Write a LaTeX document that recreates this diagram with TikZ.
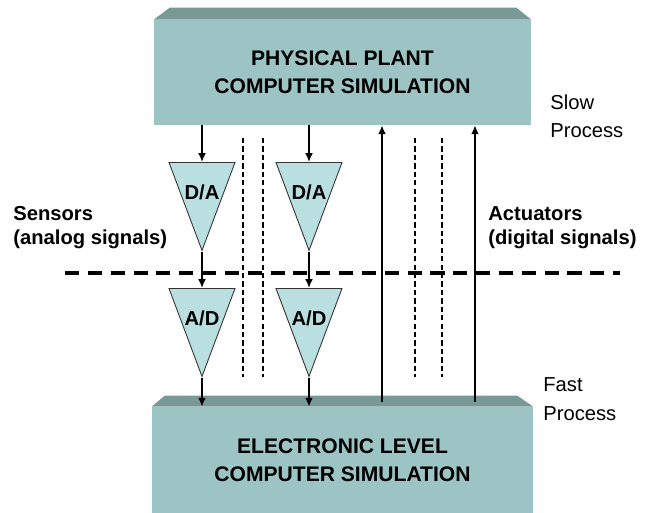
\documentclass[tikz,border=0pt]{standalone}
\usepackage{fontspec}
\setmainfont{Liberation Sans}
\usetikzlibrary{arrows.meta,shapes.geometric,calc}
\definecolor{slabfront}{RGB}{156,196,196}
\definecolor{slabtop}{RGB}{121,153,151}
\definecolor{convfill}{RGB}{186,223,225}

\begin{document}
\begin{tikzpicture}[
			x=0.02cm, y=-0.02cm,
			>=Latex,
			slab/.style={rectangle, fill=slabfront, inner sep=0pt, align=center,
				font=\fontsize{12}{16}\selectfont\bfseries},
			bevel/.style={fill=slabtop},
			conv/.style={isosceles triangle, isosceles triangle stretches,
				shape border rotate=270, draw=black!80, line width=0.5pt, fill=convfill,
				minimum width=1.32cm, minimum height=1.76cm, inner sep=0pt, anchor=north},
			convtext/.style={yshift=-4.3pt, font=\fontsize{11.5}{13}\selectfont\bfseries},
			sig/.style={-{Latex[length=5pt,width=4.4pt]}, line width=0.85pt},
			guide/.style={line width=0.6pt, dash pattern=on 3pt off 1.8pt},
			split/.style={line width=2.8pt, dash pattern=on 8pt off 5pt},
			side/.style={anchor=base west, align=left, inner sep=0pt,
				font=\fontsize{11.5}{13.7}\selectfont\bfseries},
			speed/.style={anchor=base west, align=left, inner sep=0pt,
				font=\fontsize{11.5}{16}\selectfont}
			]
			\useasboundingbox (0,0) rectangle (659,513);
			
			% the two simulation levels
			\node[slab, minimum width=7.54cm, minimum height=2.1cm] (plant) at (342.5,72.5)
			{PHYSICAL PLANT\\COMPUTER SIMULATION};
			\fill[bevel] (plant.north west) -- ++(16,-12) -- ([shift={(-15,-12)}]plant.north east)
			-- (plant.north east) -- cycle;
			
			\node[slab, minimum width=7.62cm, minimum height=2.12cm] (elec) at (342.5,460)
			{ELECTRONIC LEVEL\\COMPUTER SIMULATION};
			\fill[bevel] (elec.north west) -- ++(13,-11) -- ([shift={(-16,-11)}]elec.north east)
			-- (elec.north east) -- cycle;
			
			% converters, placed by the middle of their top edge
			\node[conv, label={[convtext]center:D/A}] (da1) at (202,162) {};
			\node[conv, label={[convtext]center:D/A}] (da2) at (309,162) {};
			\node[conv, label={[convtext]center:A/D}] (ad1) at (202,288) {};
			\node[conv, label={[convtext]center:A/D}] (ad2) at (309,288) {};
			
			% boundary between slow and fast parts
			\coordinate (splitL) at (65,273);
			\coordinate (splitR) at (620,273);
			\draw[split] (splitL) -- (splitR);
			
			\foreach \gx in {243,263,415,442}
			\draw[guide] (\gx,138) -- (\gx,377);
			
			% sensor paths
			\foreach \c in {1,2} {
				\draw[sig] (plant.south -| da\c.north) -- (da\c.north);
				\draw[sig] (da\c.apex) -- (ad\c.north);
				\draw[sig] (ad\c.apex) -- (ad\c.apex |- elec.north);
			}
			
			% actuator paths
			\coordinate (act1) at (382,402);
			\coordinate (act2) at (475,402);
			\draw[sig] (act1) -- (act1 |- plant.south);
			\draw[sig] (act2) -- (act2 |- plant.south);
			
			\node[side] (sensors) at (13,245) {Sensors\\(analog signals)};
			\node[side] (actuators) at (488,245) {Actuators\\(digital signals)};
			\node[speed] (slow) at (550,138) {Slow\\Process};
			\node[speed] (fast) at (543,420) {Fast\\Process};
		\end{tikzpicture}
\end{document}
